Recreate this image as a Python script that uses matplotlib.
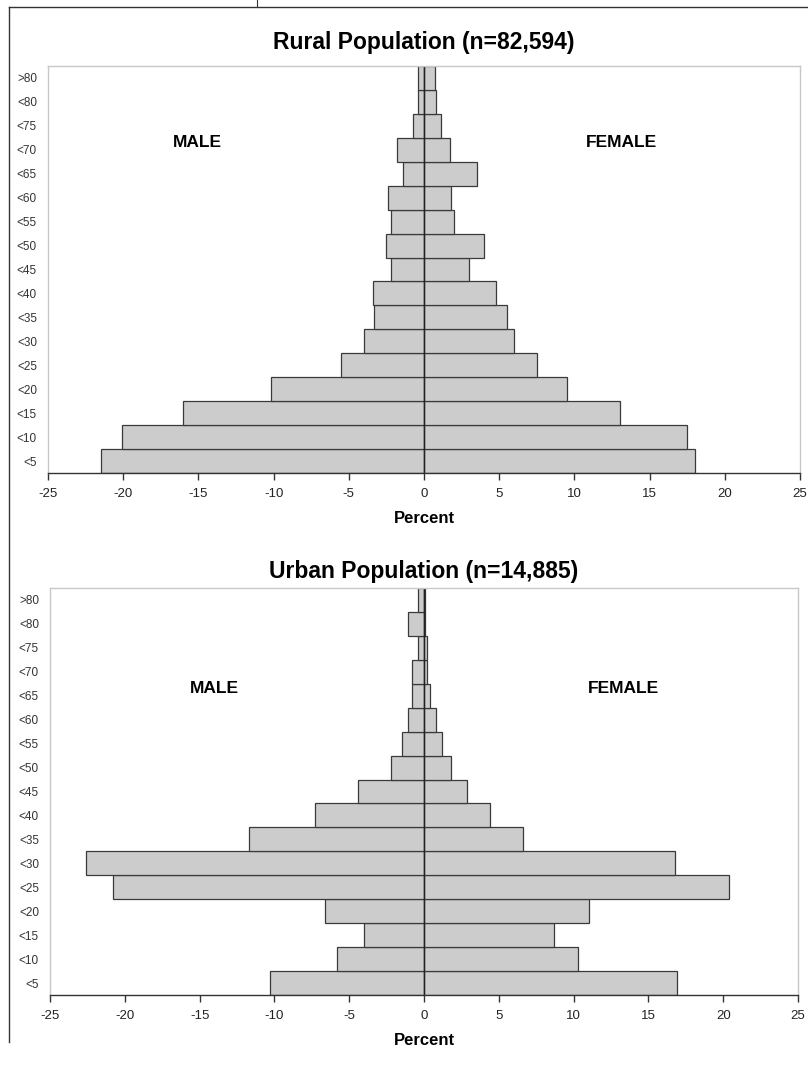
import matplotlib
matplotlib.use("Agg")
import matplotlib.pyplot as plt
from matplotlib.lines import Line2D

plt.rcParams['font.family'] = ['Liberation Sans', 'DejaVu Sans']

age_groups = ["<5", "<10", "<15", "<20", "<25", "<30", "<35", "<40", "<45",
              "<50", "<55", "<60", "<65", "<70", "<75", "<80", ">80"]

rural_male = [-21.5, -20.1, -16.0, -10.2, -5.5, -4.0, -3.3, -3.4, -2.2,
              -2.5, -2.2, -2.4, -1.4, -1.8, -0.7, -0.4, -0.4]
rural_female = [18.0, 17.5, 13.0, 9.5, 7.5, 6.0, 5.5, 4.8, 3.0,
                4.0, 2.0, 1.8, 3.5, 1.7, 1.1, 0.8, 0.7]

urban_male = [-10.3, -5.8, -4.0, -6.6, -20.8, -22.6, -11.7, -7.3, -4.4,
              -2.2, -1.5, -1.1, -0.8, -0.8, -0.4, -1.1, -0.4]
urban_female = [16.9, 10.3, 8.7, 11.0, 20.4, 16.8, 6.6, 4.4, 2.9,
                1.8, 1.2, 0.8, 0.4, 0.2, 0.2, 0.05, 0.1]

xticks = [-25, -20, -15, -10, -5, 0, 5, 10, 15, 20, 25]

W, H = 808, 1065
fig = plt.figure(figsize=(W / 100, H / 100), dpi=100)

def px_axes(left, top, right, bottom):
    return fig.add_axes([left / W, 1 - bottom / H, (right - left) / W, (bottom - top) / H])

def draw_pyramid(ax, male, female, title, title_pad, male_pos, female_pos, label_y):
    y = list(range(len(age_groups)))
    ax.barh(y, male, height=1.0, color="#cccccc", edgecolor="#3a3a3a", linewidth=0.9)
    ax.barh(y, female, height=1.0, color="#cccccc", edgecolor="#3a3a3a", linewidth=0.9)
    ax.axvline(0, color="#222222", linewidth=1.0)
    ax.set_xlim(-25, 25)
    ax.set_ylim(-0.5, len(age_groups) - 0.5)
    ax.set_yticks(y)
    ax.set_yticklabels(age_groups, fontsize=8.5, color="#333333")
    ax.tick_params(axis="y", length=0, pad=8)
    ax.set_xticks(xticks)
    ax.set_xticklabels([str(t) for t in xticks], fontsize=9.5, color="#222222")
    ax.tick_params(axis="x", direction="out", length=5, width=1.0, color="#333333", pad=6)
    for s in ["top", "right", "left"]:
        ax.spines[s].set_color("#c8c8c8")
        ax.spines[s].set_linewidth(1.0)
    ax.spines["bottom"].set_color("#333333")
    ax.spines["bottom"].set_linewidth(1.0)
    ax.set_xlabel("Percent", fontsize=12, fontweight="bold", labelpad=8)
    ax.set_title(title, fontsize=16.5, fontweight="bold", pad=title_pad)
    ax.text(male_pos, label_y, "MALE", transform=ax.transAxes, ha="center", va="center",
            fontsize=12.5, fontweight="bold")
    ax.text(female_pos, label_y, "FEMALE", transform=ax.transAxes, ha="center", va="center",
            fontsize=12.5, fontweight="bold")

ax1 = px_axes(48, 66, 800, 473)
draw_pyramid(ax1, rural_male, rural_female, "Rural Population (n=82,594)", 12,
             0.198, 0.762, 0.811)

ax2 = px_axes(50, 588, 798, 995)
draw_pyramid(ax2, urban_male, urban_female, "Urban Population (n=14,885)", 7,
             0.22, 0.767, 0.754)

# page frame lines
fig.add_artist(Line2D([9 / W, 9 / W], [1 - 7 / H, 1 - 1042 / H], color="#333333", linewidth=1.0))
fig.add_artist(Line2D([9 / W, 1.0], [1 - 7 / H, 1 - 7 / H], color="#333333", linewidth=1.0))
fig.add_artist(Line2D([257 / W, 257 / W], [1.0, 1 - 7 / H], color="#333333", linewidth=0.8))

fig.savefig("out.png", dpi=100, facecolor="white")
